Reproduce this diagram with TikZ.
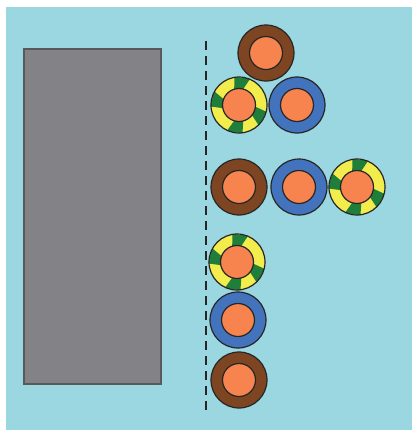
\documentclass[tikz,border=0pt]{standalone}
\definecolor{bgcyan}{HTML}{9BD7E0}
\definecolor{slabgray}{HTML}{828287}
\definecolor{coreorange}{HTML}{F7844E}
\definecolor{sheathbrown}{HTML}{7D4521}
\definecolor{sheathblue}{HTML}{4473BE}
\definecolor{earthyellow}{HTML}{F2EC4C}
\definecolor{earthgreen}{HTML}{1F7F3A}

\begin{document}
\begin{tikzpicture}[
  x=0.5pt, y=-0.5pt,
  outline/.style={draw=black!85, line width=0.6pt},
  core/.style={outline, fill=coreorange},
  sheath/.style={outline, fill=#1},
  live/.pic={\path[sheath=sheathbrown] (0,0) circle (28); \path[core] (0,0) circle (16.5);},
  neutral/.pic={\path[sheath=sheathblue] (0,0) circle (28); \path[core] (0,0) circle (16.5);},
  earth/.pic={
    \fill[earthyellow] (0,0) circle (28);
    \foreach \a in {-86,-170,-264,-333}
      \fill[earthgreen] (\a-21:16.5) -- (\a+11:16.5) -- (\a+19:28.5) -- (\a-13:28.5) -- cycle;
    \path[outline] (0,0) circle (28);
    \path[core] (0,0) circle (16.5);}
]
\useasboundingbox (0,0) rectangle (412,430);
\fill[bgcyan] (6,7) rectangle (412,430);

% wall block
\path[fill=slabgray, draw=black!65, line width=0.6pt] (24,49) rectangle (161,384);

% wall line
\draw[black!85, line width=0.75pt, dash pattern=on 4.5pt off 3pt] (206,41) -- (206,410);

% top bundle
\pic at (266,53) {live};
\pic at (239,105) {earth};
\pic at (297,105) {neutral};

% flat row
\pic at (239,187) {live};
\pic at (299,187) {neutral};
\pic at (357,187) {earth};

% column
\pic at (237,262) {earth};
\pic at (238,320) {neutral};
\pic at (239,380) {live};
\end{tikzpicture}
\end{document}
